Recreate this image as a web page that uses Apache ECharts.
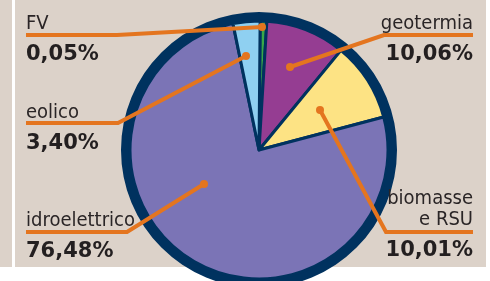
<!DOCTYPE html>
<html>
<head>
<meta charset="utf-8">
<script src="https://cdn.jsdelivr.net/npm/echarts@6/dist/echarts.min.js"></script>
<style>
html, body { margin: 0; padding: 0; background: #fff; }
#chart { width: 490px; height: 281px; }
</style>
</head>
<body>
<div id="chart"></div>
<script>
// dati: quota di produzione per fonte (in senso orario dall'alto)
var categories = ['FV', 'geotermia', 'biomasse\ne RSU', 'idroelettrico', 'eolico'];
var shares = [0.05, 10.06, 10.01, 76.48, 3.40];
var sliceColors = ['#3aa848', '#953d92', '#fde384', '#7b74b6', '#8fd0f1'];

var NAVY = '#00325f';
var ORANGE = '#e4751f';
var BEIGE = '#dcd2c9';

// posizione delle etichette e delle linee di richiamo (solo grafica)
var labelPos = [
	{ x: 26,  y: 13,  align: 'left',  line: [[262, 27], [117, 35], [26, 35]] },
	{ x: 473, y: 13,  align: 'right', line: [[290, 67], [384, 35], [473, 35]] },
	{ x: 473, y: 188, align: 'right', line: [[320, 110], [386, 232], [473, 232]] },
	{ x: 26,  y: 210, align: 'left',  line: [[204, 184], [127, 232], [26, 232]] },
	{ x: 26,  y: 102, align: 'left',  line: [[246, 56], [118, 123], [26, 123]] }
];

var chart = echarts.init(document.getElementById('chart'));

var pieData = categories.map(function (name, i) {
	return { name: name, value: shares[i], itemStyle: { color: sliceColors[i] } };
});

// linee di richiamo arancioni con pallino
var leaders = [];
labelPos.forEach(function (l) {
	leaders.push({
		type: 'polyline', z: 100,
		shape: { points: l.line },
		style: { stroke: ORANGE, lineWidth: 4, fill: null }
	});
	leaders.push({
		type: 'circle', z: 101,
		shape: { cx: l.line[0][0], cy: l.line[0][1], r: 4 },
		style: { fill: ORANGE }
	});
});

var option = {
	backgroundColor: '#fff',
	animation: false,
	graphic: [
		{ type: 'rect', z: -10, shape: { x: 0, y: 0, width: 486, height: 267 }, style: { fill: BEIGE } },
		{ type: 'rect', z: -9, shape: { x: 12, y: 0, width: 3, height: 267 }, style: { fill: '#fff' } }
	].concat(leaders),
	series: [
		{
			// bordo esterno
			type: 'pie',
			z: 1,
			silent: true,
			center: [259, 150],
			radius: [127, 138],
			label: { show: false },
			labelLine: { show: false },
			data: [{ value: 1, itemStyle: { color: NAVY } }]
		},
		{
			type: 'pie',
			z: 2,
			center: [259, 150],
			radius: 129,
			startAngle: 89.5,
			clockwise: true,
			minAngle: 3,
			avoidLabelOverlap: false,
			itemStyle: { borderColor: NAVY, borderWidth: 3 },
			label: {
				show: true,
				position: 'outside',
				formatter: function (p) {
					var names = p.name.split('\n').map(function (s) { return '{n|' + s + '}'; });
					return names.join('\n') + '\n{v|' + p.value.toFixed(2).replace('.', ',') + '%}';
				},
				rich: {
					n: {
						fontFamily: "'Liberation Sans Narrow', 'DejaVu Sans Condensed', sans-serif",
						fontSize: 20,
						lineHeight: 21,
						color: '#2a2526'
					},
					v: {
						fontFamily: "'DejaVu Sans', sans-serif",
						fontWeight: 'bold',
						fontSize: 21,
						lineHeight: 42,
						color: '#231f20'
					}
				}
			},
			labelLine: { show: false },
			labelLayout: function (params) {
				var l = labelPos[params.dataIndex];
				return { x: l.x, y: l.y, align: l.align, verticalAlign: 'top' };
			},
			data: pieData
		}
	]
};

chart.setOption(option);
</script>
</body>
</html>
